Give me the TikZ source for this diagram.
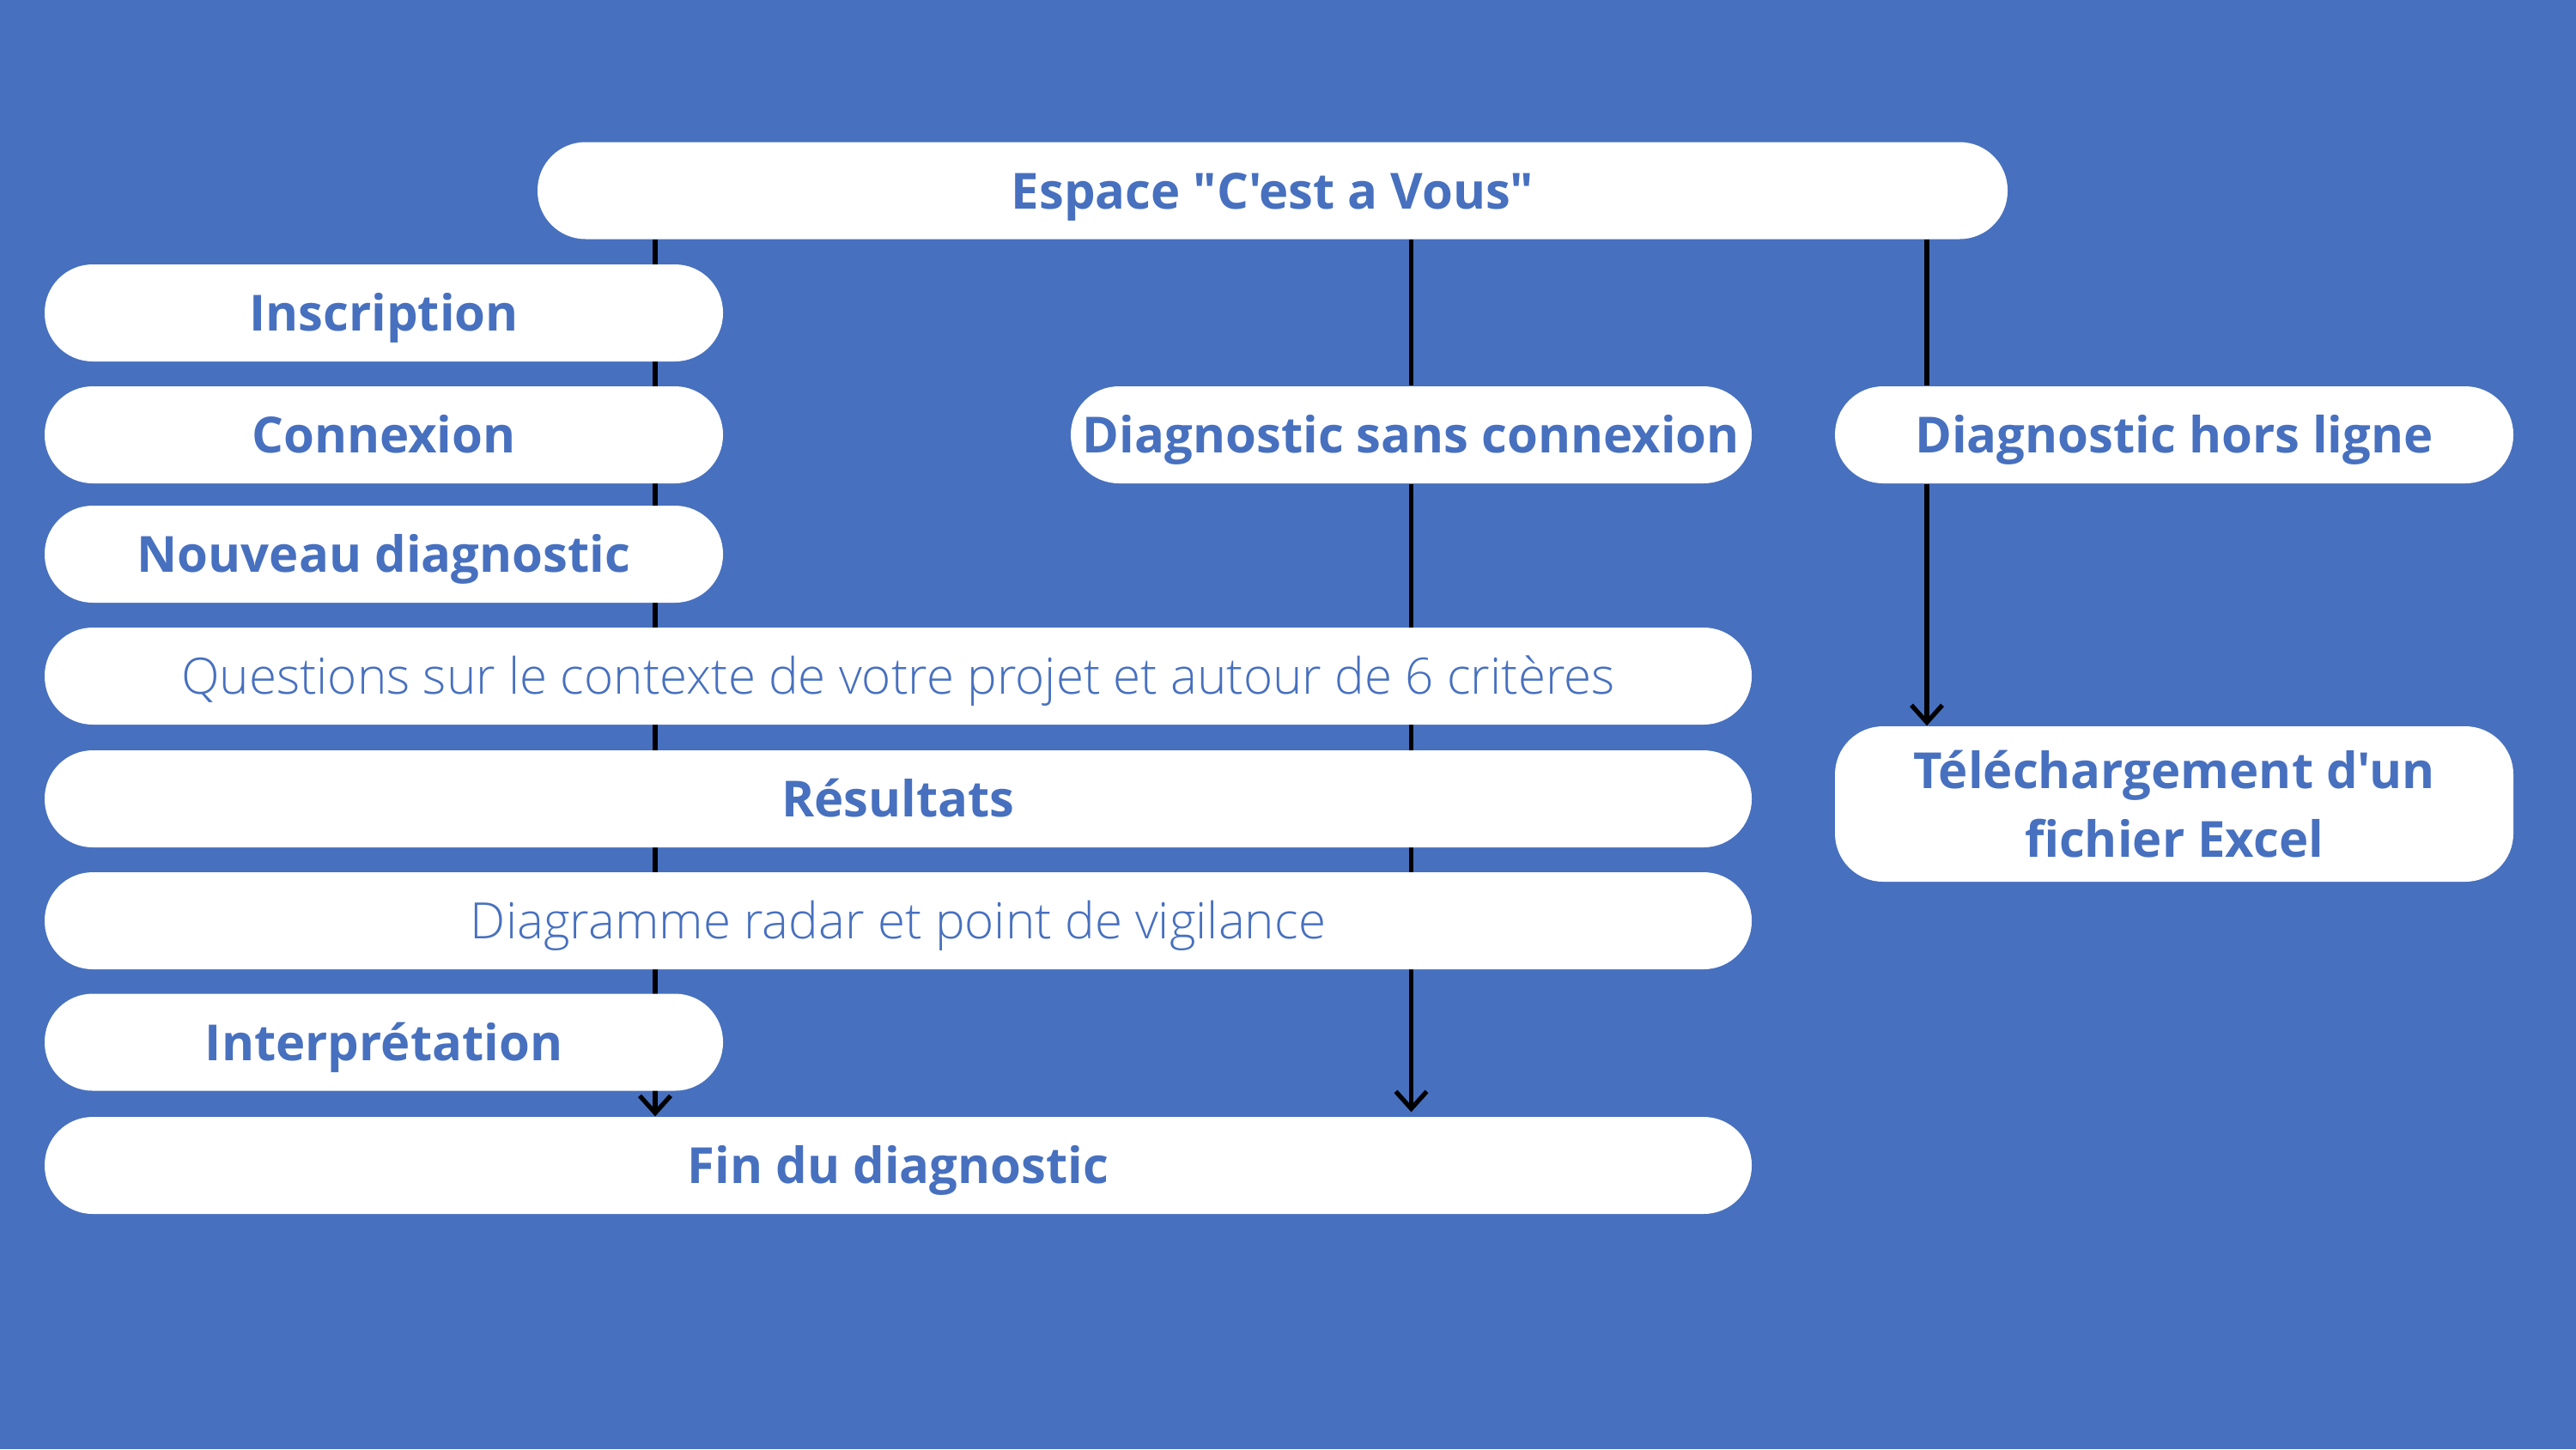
\documentclass[tikz,border=0pt]{standalone}
\usepackage{fontspec}
\setmainfont{Open Sans}[Ligatures=TeXOff]
\newfontfamily\lightfont{Open Sans Light}[Ligatures=TeXOff]
\usetikzlibrary{arrows.meta}
\definecolor{fond}{HTML}{4770BF}
\pgfdeclarelayer{fondlayer}
\pgfdeclarelayer{lignes}
\pgfsetlayers{fondlayer,lignes,main}
\tikzset{
  boite/.style={fill=white, rounded corners=0.56cm, minimum height=1.13cm,
    inner sep=0pt, text=fond, align=center, text height=16.5pt, text depth=4.3pt,
    font=\bfseries\fontsize{16.5}{23}\selectfont},
  fine/.style={boite, font=\lightfont\fontsize{16.6}{23}\selectfont},
  ligne/.style={line width=1.5pt, black},
  fleche/.style={ligne, -{Straight Barb[length=2mm,width=3.6mm]}}
}
\begin{document}
\begin{tikzpicture}

\begin{pgfonlayer}{fondlayer}
\fill[fond] (0,0) rectangle (30,-16.88);
\end{pgfonlayer}

\node[boite, minimum width=17.12cm] (espace) at (14.82,-2.22) {Espace "C'est a Vous"};

% colonne de gauche
\node[boite, minimum width=7.9cm] (inscription) at (4.47,-3.645) {Inscription};
\node[boite, minimum width=7.9cm] (connexion) at (4.47,-5.065) {Connexion};
\node[boite, minimum width=7.9cm] (nouveau) at (4.47,-6.455) {Nouveau diagnostic};
\node[fine, minimum width=19.88cm] (questions) at (10.46,-7.875) {Questions sur le contexte de votre projet et autour de 6 critères};
\node[boite, minimum width=19.88cm] (resultats) at (10.46,-9.305) {Résultats};
\node[fine, minimum width=19.88cm] (diagramme) at (10.46,-10.725) {Diagramme radar et point de vigilance};
\node[boite, minimum width=7.9cm] (interpretation) at (4.47,-12.14) {Interprétation};
\node[boite, minimum width=19.88cm] (fin) at (10.46,-13.575) {Fin du diagnostic};

% colonnes de droite
\node[boite, minimum width=7.93cm] (sans) at (16.435,-5.065) {Diagnostic sans connexion};
\node[boite, minimum width=7.9cm] (hors) at (25.32,-5.065) {Diagnostic hors ligne};
\node[boite, minimum width=7.9cm, minimum height=1.81cm, text height={}, text depth={}] (telechargement) at (25.32,-9.365) {Téléchargement d'un\\fichier Excel};

\coordinate (gauche) at (7.63,0);
\coordinate (droite) at (22.44,0);

\begin{pgfonlayer}{lignes}
\draw[fleche] (espace.south -| gauche) -- (fin.north -| gauche);
\draw[ligne] (espace.south -| sans) -- (sans);
\draw[fleche, shorten >=0.5mm] (sans) -- (fin.north -| sans);
\draw[ligne] (espace.south -| droite) -- (hors.north -| droite);
\draw[fleche] (hors.south -| droite) -- (telechargement.north -| droite);
\end{pgfonlayer}
\end{tikzpicture}
\end{document}
